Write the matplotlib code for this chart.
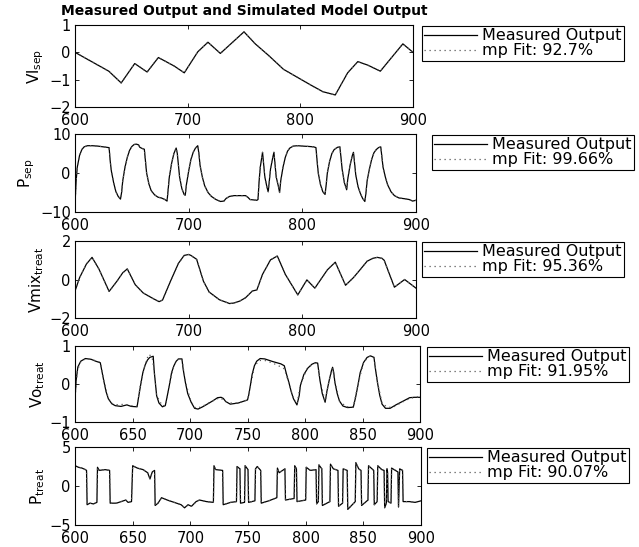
import matplotlib
matplotlib.use("Agg")
import matplotlib.pyplot as plt

plt.rcParams['font.family'] = ['DejaVu Sans']
plt.rcParams['mathtext.fontset'] = 'dejavusans'
plt.rcParams['axes.linewidth'] = 0.8

# Data: (time, value) vertices
vl_meas = [(600, 0.0), (630, -0.69), (641, -1.12), (653, -0.41), (664, -0.72), (674, -0.19),
           (688, -0.5), (697, -0.75), (709, 0.02), (718, 0.37), (729, -0.04), (750, 0.75),
           (760, 0.31), (772, -0.12), (785, -0.62), (809, -1.19), (820, -1.44), (831, -1.56),
           (842, -0.75), (851, -0.34), (860, -0.47), (871, -0.69), (891, 0.31), (900, 0.0)]
vl_fit = vl_meas

psep_meas = [(600, -8.0), (601, -2.0), (602, 1.5), (604, 4.5), (606, 6.0), (608, 6.7), (611, 7.0),
             (615, 7.0), (620, 6.9), (625, 6.7), (630, 6.5), (631, 3.0), (632, 0.5), (634, -2.5),
             (636, -4.8), (638, -6.0), (640, -6.7), (641, -5.0), (642, -2.0), (644, 1.5), (646, 4.0),
             (648, 5.8), (650, 6.8), (652, 7.3), (654, 7.4), (656, 7.2), (657, 6.6), (659, 6.3),
             (661, 6.1), (662, 3.0), (663, 0.0), (665, -2.8), (667, -4.5), (670, -5.6), (673, -6.2),
             (676, -6.4), (679, -6.8), (681, -7.2), (682, -4.0), (683, -1.0), (685, 2.5), (687, 5.0),
             (689, 6.4), (690, 5.0), (691, 2.0), (692, -1.0), (694, -4.0), (696, -5.5), (697, -5.7),
             (698, -3.0), (700, 0.5), (702, 3.5), (704, 5.3), (706, 6.4), (708, 7.0), (709, 5.0),
             (710, 2.0), (712, -1.0), (714, -3.2), (717, -5.0), (720, -6.0), (724, -6.8),
             (728, -7.3), (731, -7.2), (733, -6.5), (736, -6.0), (740, -5.8), (750, -5.8),
             (752, -6.2), (754, -6.8), (760, -7.0), (761, -6.8), (762, -2.0), (763, 1.5), (765, 5.3),
             (766, 2.0), (767, -1.0), (769, -3.8), (770, -4.8), (771, -2.0), (772, 1.0), (774, 4.0),
             (775, 5.3), (776, 2.0), (777, -1.0), (779, -3.5), (780, -5.0), (781, -2.0), (783, 1.5),
             (785, 4.0), (787, 5.6), (789, 6.4), (792, 6.9), (796, 7.0), (800, 6.9), (806, 6.8),
             (810, 6.7), (812, 6.5), (813, 3.0), (814, 0.0), (816, -3.0), (818, -4.8), (820, -5.5),
             (821, -3.0), (822, 0.0), (824, 3.0), (826, 5.0), (828, 6.0), (831, 6.6), (833, 6.7),
             (834, 4.0), (835, 1.0), (837, -2.5), (839, -4.3), (840, -1.5), (842, 2.0), (844, 4.5),
             (845, 5.3), (846, 2.5), (847, -0.5), (849, -3.5), (851, -5.2), (853, -6.5), (855, -7.3),
             (856, -5.0), (857, -2.0), (859, 1.0), (861, 3.5), (863, 5.2), (865, 6.0), (867, 6.5),
             (869, 6.7), (870, 4.0), (871, 1.5), (873, -1.0), (875, -3.0), (878, -4.8), (881, -5.8),
             (885, -6.4), (890, -6.6), (894, -6.8), (897, -7.2), (900, -7.0)]
psep_fit = psep_meas

vmix_meas = [(600, -0.6), (604, 0.09), (610, 0.8), (615, 1.15), (621, 0.55), (630, -0.62),
             (637, -0.08), (642, 0.35), (646, 0.55), (653, -0.27), (660, -0.7), (669, -1.0),
             (674, -1.15), (677, -1.07), (684, -0.09), (691, 0.84), (696, 1.25), (700, 1.3),
             (702, 1.25), (707, 1.05), (713, -0.09), (718, -0.65), (727, -1.05), (736, -1.25),
             (740, -1.22), (745, -1.12), (750, -0.95), (756, -0.6), (760, -0.54), (765, 0.27),
             (772, 1.02), (778, 1.22), (785, 0.27), (796, -0.8), (804, -0.02), (811, -0.45),
             (822, 0.5), (829, 0.9), (838, -0.3), (845, 0.1), (850, 0.45), (857, 0.95), (862, 1.1),
             (866, 1.15), (870, 1.1), (872, 1.0), (881, -0.4), (890, 0.0), (900, -0.45)]
vmix_fit = vmix_meas

vo_meas = [(600, -0.4), (601, 0.1), (602.5, 0.45), (605, 0.6), (609, 0.67), (614, 0.65), (618, 0.6),
           (622, 0.56), (623, 0.4), (625, 0.09), (627, -0.2), (629, -0.39), (632, -0.52),
           (635, -0.57), (640, -0.59), (645, -0.55), (649, -0.59), (654, -0.6), (655, -0.4),
           (657, -0.04), (659, 0.3), (661, 0.5), (663, 0.63), (665, 0.7), (668, 0.73), (669, 0.3),
           (671, -0.31), (673, -0.5), (676, -0.6), (678.5, -0.57), (680, -0.35), (682, -0.04),
           (684, 0.3), (686, 0.48), (688, 0.6), (690, 0.66), (693, 0.66), (694, 0.4), (696, 0.04),
           (698, -0.25), (701, -0.48), (704, -0.64), (707, -0.66), (711, -0.6), (715, -0.53),
           (720, -0.44), (724, -0.36), (727, -0.35), (729, -0.38), (731, -0.46), (735, -0.53),
           (742, -0.5), (746, -0.46), (750, -0.42), (751, -0.3), (752.5, -0.04), (754, 0.25),
           (756, 0.48), (758, 0.6), (761, 0.67), (765, 0.66), (772, 0.59), (779, 0.53), (782, 0.48),
           (784, 0.25), (786, 0.04), (788, -0.2), (790, -0.39), (793, -0.55), (795, -0.3),
           (796, -0.04), (799, 0.25), (802.5, 0.42), (806, 0.52), (809, 0.56), (811, 0.55),
           (813, 0.1), (815, -0.25), (817.5, -0.48), (819, -0.2), (821, 0.09), (823, 0.35),
           (824, 0.44), (825, 0.3), (826, 0.04), (828, -0.25), (830, -0.45), (833, -0.58),
           (837, -0.62), (842, -0.61), (844, -0.35), (846, -0.04), (848, 0.3), (851, 0.57),
           (854, 0.7), (857, 0.74), (860, 0.7), (861, 0.45), (863, 0.04), (865, -0.3), (867, -0.53),
           (870, -0.64), (874, -0.64), (879, -0.55), (886, -0.44), (891, -0.36), (895, -0.35),
           (900, -0.35)]
vo_fit = [(600, -0.35), (602, 0.35), (605, 0.58), (609, 0.66), (614, 0.65), (618, 0.61), (622, 0.57),
          (625, 0.1), (629, -0.38), (633, -0.53), (638, -0.55), (643, -0.53), (648, -0.57),
          (654, -0.58), (657, 0.0), (661, 0.52), (664, 0.78), (667, 0.72), (669, 0.3), (671, -0.3),
          (676, -0.58), (679, -0.55), (682, -0.02), (686, 0.5), (690, 0.66), (693, 0.66), (696, 0.05),
          (701, -0.47), (705, -0.64), (710, -0.6), (715, -0.52), (720, -0.44), (726, -0.36),
          (731, -0.46), (736, -0.5), (742, -0.5), (750, -0.42), (753, 0.0), (756, 0.46), (760, 0.62),
          (765, 0.62), (772, 0.55), (779, 0.45), (782, 0.4), (786, 0.02), (790, -0.38), (793, -0.53),
          (796, -0.02), (802, 0.42), (808, 0.54), (811, 0.54), (813, 0.1), (817.5, -0.46), (821, 0.1),
          (824, 0.42), (826, 0.05), (830, -0.45), (836, -0.6), (842, -0.6), (846, -0.02), (851, 0.58),
          (856, 0.73), (860, 0.7), (863, 0.05), (867, -0.5), (871, -0.6), (876, -0.62), (882, -0.52),
          (888, -0.42), (894, -0.36), (900, -0.33)]

pt_meas = [(600, 2.6), (603, 2.4), (606, 2.3), (609, 2.1), (610, 2.0), (610.5, -2.4), (613, -2.2),
           (616, -2.3), (619, -2.1), (619.5, 2.4), (621, 2.0), (626, 2.1), (630, 2.0), (630.5, -2.2),
           (636, -2.2), (640, -2.0), (644, -1.8), (646, -2.1), (649, -2.0), (650, 2.6), (654, 2.3),
           (659, 2.1), (663, 1.7), (665, 0.9), (667, 1.8), (669, 2.0), (669.5, -2.5), (672, -2.2),
           (675, -1.5), (680, -1.8), (686, -2.1), (692, -2.4), (695, -2.8), (698, -2.4), (701, -2.6),
           (705, -2.0), (708, -1.8), (714, -2.0), (720, -2.1), (720.5, 2.6), (722, 2.1), (728, 2.0),
           (728.5, -2.4), (735, -2.1), (740, -2.0), (740.5, 2.5), (743, 2.2), (743.5, -2.2),
           (747, -2.1), (747.5, 2.6), (750, 2.1), (750.5, -2.1), (756, -1.9), (756.5, 2.2),
           (758, 2.5), (761, 2.0), (761.5, -2.2), (768, -1.9), (775, -1.5), (775.5, 2.3), (777, 1.7),
           (780, 2.0), (782, 2.2), (782.5, -1.8), (790, -1.6), (790.5, 2.6), (792, 2.2),
           (792.5, -2.0), (800, -1.8), (800.5, 2.4), (804, 2.0), (809, 2.1), (809.5, -2.3),
           (811, -2.0), (811.5, 2.7), (814, 2.2), (814.5, -2.5), (821, -2.0), (821.5, 2.8),
           (824, 2.2), (828, 2.0), (828.5, -2.6), (832, -2.2), (832.5, 2.2), (836, 2.0),
           (836.5, -3.0), (843, -2.0), (843.5, 3.0), (846, 2.2), (848, 2.0), (848.5, -2.5),
           (854, -1.8), (854.5, 2.6), (859, 2.0), (859.5, -2.4), (862, -2.0), (862.5, 2.6),
           (866, 2.1), (868, 2.0), (868.5, -2.8), (870, -2.2), (870.5, 2.2), (871, 1.8),
           (871.5, -2.0), (874, -2.2), (874.5, 2.3), (880, 1.8), (880.5, -2.7), (881.5, 2.2),
           (884, 2.0), (884.5, -2.0), (890, -2.0), (895, -2.1), (900, -1.9)]
pt_fit = pt_meas

panels = [
    dict(meas=vl_meas, fit=vl_fit, ylabel=r'Vl$_{\rm sep}$', ylim=(-2, 1), yticks=[-2, -1, 0, 1],
         xticks=[600, 700, 800, 900], fit_label='mp Fit: 92.7%',
         box=(75, 25, 413, 107), leg=(422, 26)),
    dict(meas=psep_meas, fit=psep_fit, ylabel=r'P$_{\rm sep}$', ylim=(-10, 10), yticks=[-10, 0, 10],
         xticks=[600, 700, 800, 900], fit_label='mp Fit: 99.66%',
         box=(75, 134, 416, 212), leg=(432, 135)),
    dict(meas=vmix_meas, fit=vmix_fit, ylabel=r'Vmix$_{\rm treat}$', ylim=(-2, 2), yticks=[-2, 0, 2],
         xticks=[600, 700, 800, 900], fit_label='mp Fit: 95.36%',
         box=(75, 241, 416, 318), leg=(422, 242)),
    dict(meas=vo_meas, fit=vo_fit, ylabel=r'Vo$_{\rm treat}$', ylim=(-1, 1), yticks=[-1, 0, 1],
         xticks=[600, 650, 700, 750, 800, 850, 900], fit_label='mp Fit: 91.95%',
         box=(75, 346, 420, 422), leg=(427, 347)),
    dict(meas=pt_meas, fit=pt_fit, ylabel=r'P$_{\rm treat}$', ylim=(-5, 5), yticks=[-5, 0, 5],
         xticks=[600, 650, 700, 750, 800, 850, 900], fit_label='mp Fit: 90.07%',
         box=(75, 447, 421, 525), leg=(427, 448)),
]

W, H = 639, 547
fig = plt.figure(figsize=(W / 100, H / 100), dpi=100)

for i, p in enumerate(panels):
    l, t, r, b = p['box']
    ax = fig.add_axes([l / W, 1 - b / H, (r - l) / W, (b - t) / H])
    mx, my = zip(*p['meas'])
    fx, fy = zip(*p['fit'])
    ax.plot(mx, my, color='black', lw=0.9, label='Measured Output')
    ax.plot(fx, fy, color='0.35', lw=0.9, ls=(0, (1, 3)), label=p['fit_label'])
    ax.set_xlim(600, 900)
    ax.set_ylim(*p['ylim'])
    ax.set_xticks(p['xticks'])
    ax.set_yticks(p['yticks'])
    ax.tick_params(direction='in', top=True, right=True, length=3, width=0.6,
                   labelsize=10.5, pad=3)
    ax.tick_params(axis='x', pad=4)
    ax.set_ylabel(p['ylabel'], fontsize=11, labelpad=2)
    if i == 0:
        ax.set_title('Measured Output and Simulated Model Output', fontsize=10,
                     fontweight='bold', pad=7)
    lx, ly = p['leg']
    ax.legend(loc='upper left', bbox_to_anchor=(lx / W, 1 - ly / H),
              bbox_transform=fig.transFigure, fontsize=11.5, frameon=True,
              fancybox=False, edgecolor='black', framealpha=1, borderaxespad=0,
              borderpad=0.15, labelspacing=0.0, handlelength=3.3, handletextpad=0.3)
    ax.get_legend().get_frame().set_linewidth(0.8)

fig.savefig('out.png', dpi=100)
